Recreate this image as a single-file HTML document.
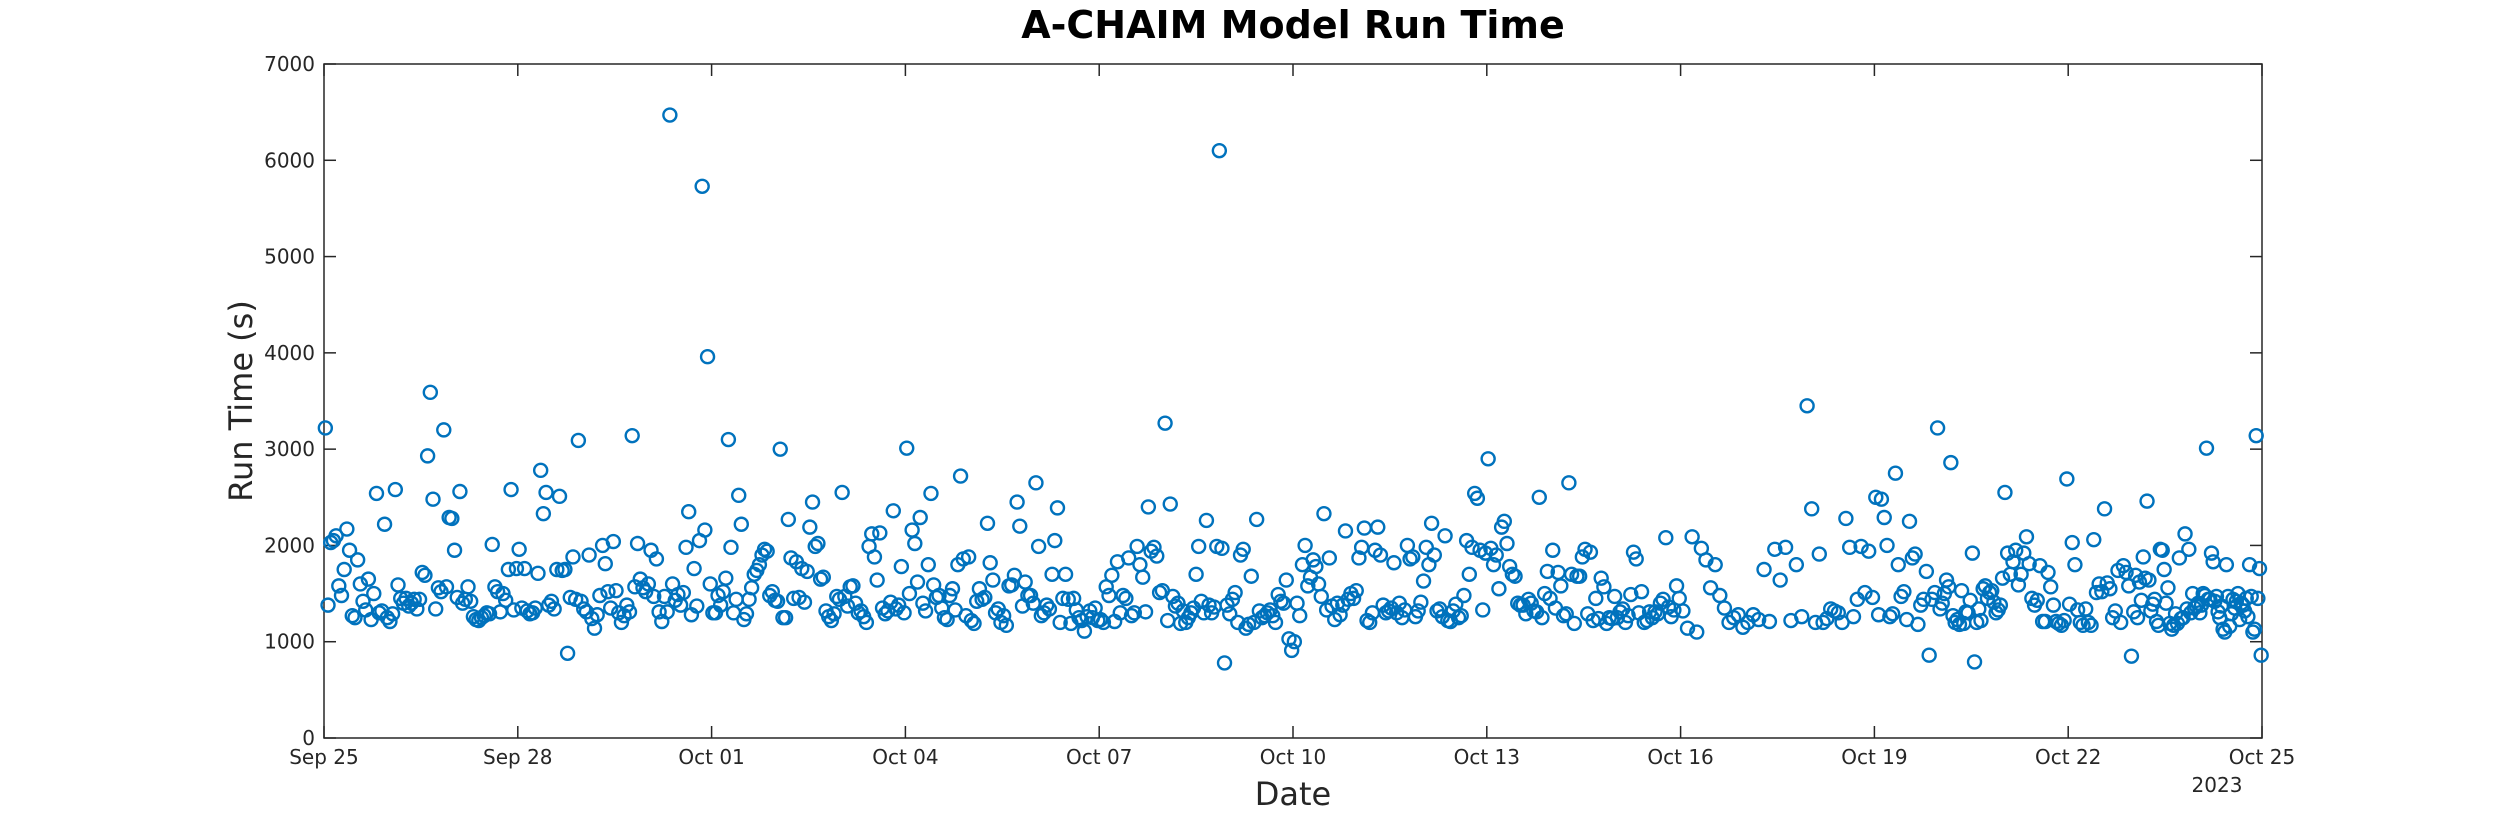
<!DOCTYPE html>
<html><head><meta charset="utf-8"><style>
html,body{margin:0;padding:0;background:#fff;}
svg{display:block;font-family:"DejaVu Sans","Liberation Sans",sans-serif;}
</style></head><body>
<svg id="chart" width="2500" height="833" viewBox="0 0 2500 833" xmlns="http://www.w3.org/2000/svg">
<rect width="2500" height="833" fill="#fff"/>
<text x="1293" y="38" text-anchor="middle" font-size="38" font-weight="bold" fill="#000">A-CHAIM Model Run Time</text>
<g id="axes"></g>
<g id="points"></g>
<text x="1293" y="805" text-anchor="middle" font-size="32" fill="#262626">Date</text>
<text transform="translate(252,401) rotate(-90)" text-anchor="middle" font-size="32" fill="#262626">Run Time (s)</text>
<text x="2217" y="792" text-anchor="middle" font-size="20" fill="#262626">2023</text>
</svg>
<script>
const xTickLabels = ["Sep 25","Sep 28","Oct 01","Oct 04","Oct 07","Oct 10","Oct 13","Oct 16","Oct 19","Oct 22","Oct 25"];
const xTickDays = [0,3,6,9,12,15,18,21,24,27,30];
const yTicks = [0,1000,2000,3000,4000,5000,6000,7000];
const startDay = 0;
const endDay = 30;
const runTimesByDay = [
[3220,1380,2030,2050,2100,1580,1480,1750,2170,1950,1270,1250,1850,1600,1420,1330,1650,1230,1500,2540,1300,1320,2220,1250],
[1210,1290,2580,1590,1450,1400,1450,1370,1400,1440,1340,1440,1720,1690,2930,3590,2480,1340,1560,1520,3200,1570,2290,2280],
[1950,1460,2560,1400,1440,1570,1420,1260,1230,1220,1250,1270,1300,1290,2010,1570,1520,1310,1500,1430,1750,2580,1330,1760],
[1960,1350,1760,1320,1290,1300,1350,1710,2780,2330,2550,1380,1420,1340,1750,2510,1740,1750,880,1460,1880,1440,3090,1420],
[1340,1310,1900,1240,1140,1280,1480,2000,1810,1520,1350,2040,1530,1300,1200,1270,1380,1310,3140,1570,2020,1650,1560,1520],
[1600,1950,1470,1860,1310,1210,1470,1310,6470,1600,1430,1490,1380,1510,1980,2350,1280,1760,1370,2050,5730,2160,3960,1600],
[1300,1300,1480,1380,1520,1660,3100,1980,1300,1440,2520,2220,1230,1290,1440,1560,1700,1740,1800,1900,1960,1940,1480,1520,1430],
[1420,3000,1250,1250,2270,1870,1450,1830,1460,1760,1410,1730,2190,2450,1990,2020,1650,1670,1320,1260,1220,1290,1470,1440],
[2550,1470,1370,1570,1580,1400,1300,1320,1260,1200,1990,2120,1880,1640,2130,1350,1290,1320,1410,2360,1340,1380,1780,1300],
[3010,1500,2160,2020,1620,2290,1400,1320,1800,2540,1590,1460,1480,1350,1250,1230,1480,1550,1330,1800,2720,1860,1270,1880],
[1220,1190,1420,1550,1440,1460,2230,1820,1640,1300,1340,1200,1270,1170,1580,1590,1690,2450,2200,1370,1620,1480,1480,1400],
[2650,1990,1270,1300,1380,1340,1700,2050,2390,1200,1450,1700,1440,1190,1450,1330,1250,1220,1110,1260,1320,1250,1350,1220],
[1230,1200,1570,1480,1690,1210,1830,1300,1480,1450,1870,1270,1300,1990,1800,1670,1310,2400,1940,1980,1890,1510,1530],
[3270,1220,2430,1470,1370,1400,1190,1320,1200,1250,1300,1350,1700,1990,1420,1300,2260,1380,1300,1360,1990,6100,1970,780,1380],
[1290,1440,1510,1200,1900,1960,1140,1180,1680,1200,2270,1320,1250,1270,1300,1330,1270,1200,1490,1420,1400,1640,1030,910],
[1000,1400,1270,1800,2000,1580,1670,1850,1780,1600,1470,2330,1330,1870,1370,1230,1400,1280,1380,2150,1440,1500,1450,1530],
[1870,1980,2180,1220,1200,1300,1950,2190,1900,1380,1300,1320,1350,1820,1300,1400,1250,1330,2000,1860,1880,1260,1320,1410],
[1630,1980,1800,2230,1900,1320,1340,1260,2100,1220,1210,1320,1390,1250,1270,1480,2050,1700,1980,2540,2490,1950,1330,1920],
[2900,1970,1800,1900,1550,2190,2250,2020,1780,1700,1680,1400,1380,1380,1290,1440,1400,1320,1310,2500,1250,1500,1730,1450],
[1950,1350,1720,1580,1270,1290,2650,1700,1190,1680,1680,1880,1960,1290,1930,1220,1450,1240,1660,1570,1190,1250,1240,1470],
[1250,1310,1340,1200,1270,1490,1930,1860,1300,1520,1200,1220,1310,1250,1310,1290,1400,1440,2080,1360,1260,1330,1580,1450],
[1320,1140,2090,1100,1970,1850,1560,1800,1480,1350,1200,1250,1280,1150],
[1200,1280,1230,1750,1210,1960,1640,1980,1220,1800,1260,3450],
[2380,1200,1910,1200,1240,1340,1320,1300,1200,2280,1980,1260,1440,1990,1510,1940,1460],
[2500,1280,2480,2290,2000,1260,1290,2750,1800,1470,1520,1230,2250,1870,1910,1180,1380,1440,1730,860,1440,1510,3220],
[1340,1400,1500,1640,1570,2860,1270,1200,1230,1180,1530,1190,1310,1300,1430,1920,790,1200,1340,1220,1550,1580,1450,1510,1530,1410,1300,1330,1380,1660],
[2550,1920,1700,1830,1950,1590,1700,1920,2090,1810,1450,1380,1430,1790,1210,1210,1720,1570,1380,1210,1190,1170,1220,2690],
[1390,2030,1800,1330,1200,1170,1340,1200,1170,2060,1510,1600,1520,2380,1610,1550,1250,1320,1740,1200,1790,1720,1580,850],
[1310,1690,1250,1620,1430,1880,1660,2460,1640,1320,1390,1440,1210,1170,1960,1950,1750,1400,1560,1190,1130,1170,1290,1190,1870,1240,1250,2120,1340,1960,1300,1500,1350,1370],
[1400,1300,1380,1500,1480,3010,1440,1440,1920,1830,1420,1470,1310,1250,1370,1130,1100,1800,1470,1160,1290,1440,1350,1420,1500,1230,1400,1380,1320,1450,1260,1800,1470,1100,1130,3140,1450,1760,860]
];
const L=324,R=2262,T=64,B=738,YMAX=7000;
const NS='http://www.w3.org/2000/svg';
function xScale(d){return L+(d-startDay)/(endDay-startDay)*(R-L);}
function yScale(v){return B-v/YMAX*(B-T);}
const axes=document.getElementById('axes');
function mk(tag,attrs,parent){const e=document.createElementNS(NS,tag);for(const k in attrs)e.setAttribute(k,attrs[k]);parent.appendChild(e);return e;}
const frame=mk('rect',{x:L,y:T,width:R-L,height:B-T,fill:'none',stroke:'#262626','stroke-width':1.5},axes);


xTickDays.forEach((d,i)=>{
  const x=xScale(d);
  mk('line',{x1:x,x2:x,y1:B,y2:B-12,stroke:'#262626','stroke-width':1.5},axes);
  mk('line',{x1:x,x2:x,y1:T,y2:T+12,stroke:'#262626','stroke-width':1.5},axes);
  const t=mk('text',{x:x,y:B+26,'text-anchor':'middle','font-size':20,fill:'#262626'},axes);
  t.textContent=xTickLabels[i];
  
  
});
yTicks.forEach(v=>{
  const y=yScale(v);
  mk('line',{x1:L,x2:L+12,y1:y,y2:y,stroke:'#262626','stroke-width':1.5},axes);
  mk('line',{x1:R,x2:R-12,y1:y,y2:y,stroke:'#262626','stroke-width':1.5},axes);
  const t=mk('text',{x:L-9,y:y+7,'text-anchor':'end','font-size':20,fill:'#262626'},axes);
  t.textContent=String(v);
  
  
});
const pts=document.getElementById('points');
runTimesByDay.forEach((day,di)=>{
  day.forEach((v,j)=>{
    const d=startDay+di+(j+0.5)/day.length;
    const c=mk('circle',{cx:xScale(d),cy:yScale(v),r:6.5,fill:'none',stroke:'#0072BD','stroke-width':2.4},pts);
    
    
  });
});
</script>
</body></html>
